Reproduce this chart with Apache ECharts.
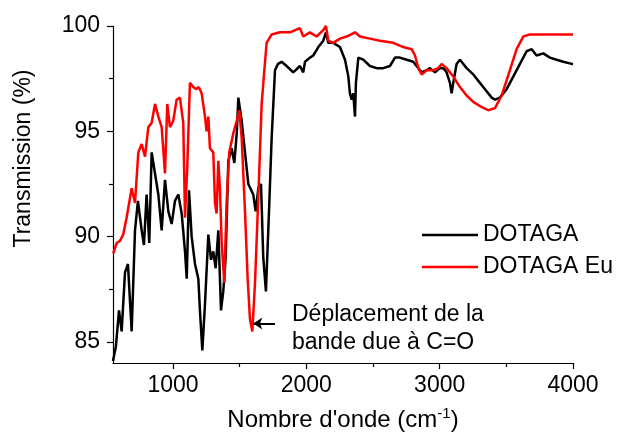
<!DOCTYPE html>
<html><head><meta charset="utf-8">
<script src="https://cdn.jsdelivr.net/npm/echarts@6/dist/echarts.min.js"></script>
<style>html,body{margin:0;padding:0;background:#fff}#c{width:626px;height:432px}</style>
</head><body><div id="c"></div>
<script>
const seriesNames = ['DOTAGA', 'DOTAGA Eu'];
const dotagaWavenumber = [550,572,595,615,640,662,690,715,737,765,782,802,822,840,865,890,915,940,965,990,1015,1040,1065,1090,1103,1120,1140,1165,1190,1202,1220,1240,1265,1285,1302,1320,1340,1360,1377,1395,1415,1440,1460,1478,1490,1515,1540,1565,1602,1620,1640,1660,1677,1697,1720,1740,1765,1787,1815,1852,1902,1952,1977,1990,2027,2052,2090,2127,2147,2165,2202,2252,2290,2315,2327,2340,2352,2365,2372,2390,2427,2477,2527,2577,2627,2665,2702,2752,2802,2840,2865,2902,2927,2965,3002,3027,3052,3077,3090,3102,3127,3152,3202,3252,3302,3352,3390,3415,3452,3502,3552,3602,3652,3690,3727,3777,3827,3877,3927,3990,4000];
const dotagaTransmission = [84.1,84.8,86.5,85.5,88.3,88.7,85.5,90.3,91.7,90.3,89.6,92.0,89.7,94.0,93.0,92.0,90.3,92.7,91.2,90.6,91.7,92.0,91.1,89.3,88.0,92.2,90.0,88.7,88.0,86.5,84.6,86.8,90.1,88.9,89.3,88.5,90.3,86.5,87.4,89.0,93.6,94.2,93.5,94.9,96.6,95.5,94.0,92.5,92.0,91.2,92.3,92.5,89.0,87.4,91.2,94.7,97.9,98.2,98.3,98.1,97.8,98.1,97.8,98.3,98.5,98.6,99.0,99.3,99.7,99.2,99.2,99.0,98.4,97.6,96.8,96.5,96.8,95.7,97.3,98.5,98.4,98.1,98.0,98.0,98.1,98.5,98.5,98.4,98.3,98.0,97.8,97.9,98.0,97.8,98.0,98.0,97.8,97.3,96.8,97.3,98.2,98.4,98.0,97.7,97.3,96.9,96.6,96.5,96.6,97.0,97.6,98.2,98.8,98.9,98.6,98.7,98.5,98.4,98.3,98.2,98.2];
const euWavenumber = [552,578,602,627,652,690,715,740,765,790,815,840,865,890,915,940,957,977,1002,1027,1052,1077,1090,1107,1127,1152,1177,1190,1202,1215,1240,1252,1265,1277,1302,1315,1327,1340,1352,1365,1385,1402,1422,1452,1478,1497,1515,1540,1560,1577,1595,1615,1640,1665,1685,1702,1740,1802,1877,1952,1977,2027,2077,2127,2147,2165,2202,2252,2302,2365,2402,2477,2552,2652,2727,2790,2815,2840,2865,2902,2952,2990,3015,3052,3102,3152,3202,3252,3302,3365,3415,3465,3527,3577,3627,3677,3802,3927,4000];
const euTransmission = [89.2,89.7,89.8,90.1,90.9,92.3,91.6,94.0,94.4,93.8,95.2,95.4,96.3,95.7,95.2,93.0,96.3,95.2,95.5,96.5,96.6,95.4,90.9,93.3,97.3,97.1,97.0,97.1,97.0,96.8,95.7,95.0,95.7,94.2,94.0,91.6,91.1,93.6,92.3,89.7,87.8,91.6,94.0,94.9,95.5,96.0,94.7,91.2,88.0,86.1,85.5,87.8,91.9,96.3,97.9,99.2,99.6,99.7,99.7,99.9,99.5,99.7,99.5,99.8,100.0,99.3,99.2,99.4,99.5,99.7,99.5,99.4,99.3,99.2,99.0,98.9,98.6,98.0,97.7,97.9,97.9,98.0,98.2,98.0,97.6,97.1,96.7,96.4,96.2,96.0,96.1,96.7,97.9,98.9,99.5,99.6,99.6,99.6,99.6];
const xMajorTicks = [1000, 2000, 3000, 4000];
const xMinorTicks = [1500, 2500, 3500];
const yMajorTicks = [85, 90, 95, 100];
const yMinorTicks = [87.5, 92.5, 97.5];
const arrowFrom = [1765, 85.87];
const arrowTo = [1602, 85.87];
const xTitle = "Nombre d'onde (cm";
const xTitleSup = '-1';
const yTitle = 'Transmission (%)';
const noteLines = ['Déplacement de la', 'bande due à C=O'];

const FONT = '"Liberation Sans", Arial, sans-serif';
const pair = (xs, ys) => xs.map((x, i) => [x, ys[i]]);
const axisLineStyle = { color: '#000', width: 1.2 };
const plain = v => String(v);

function xAxisDef(ticks, len, labels) {
  return {
    type: 'value', min: 550, max: 4000, position: 'bottom', gridIndex: 0,
    axisLine: { show: labels, lineStyle: axisLineStyle, onZero: false },
    axisTick: { show: true, inside: false, length: len, customValues: ticks, lineStyle: axisLineStyle },
    axisLabel: { show: labels, customValues: ticks, formatter: plain, margin: 11, fontSize: 23, color: '#000', fontFamily: FONT },
    splitLine: { show: false }, minorTick: { show: false }
  };
}
function yAxisDef(ticks, len, labels) {
  return {
    type: 'value', min: 84, max: 100, position: 'left', gridIndex: 0,
    axisLine: { show: labels, lineStyle: axisLineStyle, onZero: false },
    axisTick: { show: true, inside: false, length: len, customValues: ticks, lineStyle: axisLineStyle },
    axisLabel: { show: labels, customValues: ticks, formatter: plain, margin: 13, fontSize: 23, color: '#000', fontFamily: FONT },
    splitLine: { show: false }, minorTick: { show: false }
  };
}

const chart = echarts.init(document.getElementById('c'), null, { renderer: 'canvas' });
chart.setOption({
  animation: false,
  backgroundColor: '#fff',
  grid: { left: 113, right: 53, top: 26, bottom: 69, containLabel: false, outerBoundsMode: 'none' },
  xAxis: [xAxisDef(xMajorTicks, 6, true), xAxisDef(xMinorTicks, 4, false)],
  yAxis: [yAxisDef(yMajorTicks, 6, true), yAxisDef(yMinorTicks, 4, false)],
  legend: {
    orient: 'vertical', left: 422, top: 223.5, padding: 0, itemWidth: 56, itemHeight: 2.5, icon: 'rect',
    itemGap: 9, data: seriesNames,
    textStyle: { fontSize: 23, color: '#000', fontFamily: FONT }
  },
  series: [
    {
      name: seriesNames[0], type: 'line', xAxisIndex: 0, yAxisIndex: 0, showSymbol: false, symbol: 'none',
      color: '#000000', lineStyle: { color: '#000000', width: 2.5 }, itemStyle: { color: '#000000' },
      data: pair(dotagaWavenumber, dotagaTransmission), z: 2
    },
    {
      name: seriesNames[1], type: 'line', xAxisIndex: 0, yAxisIndex: 0, showSymbol: false, symbol: 'none',
      color: '#ff0000', lineStyle: { color: '#ff0000', width: 2.5 }, itemStyle: { color: '#ff0000' },
      data: pair(euWavenumber, euTransmission), z: 3,
      markLine: {
        silent: true, symbol: ['none', 'arrow'], symbolSize: 9, animation: false,
        lineStyle: { color: '#000', width: 2, type: 'solid' }, label: { show: false },
        emphasis: { disabled: true },
        data: [[{ coord: arrowFrom }, { coord: arrowTo }]]
      }
    }
  ],
  graphic: [
    { type: 'text', x: 23.5, y: 158.5, rotation: Math.PI / 2,
      style: { text: yTitle, font: '23px ' + FONT, fill: '#000', align: 'center', verticalAlign: 'middle' } },
    { type: 'text', x: 343, y: 420,
      style: { text: xTitle + '{sup|' + xTitleSup + '})', font: '24px ' + FONT, fill: '#000', align: 'center', verticalAlign: 'middle',
        lineHeight: 28,
        rich: { sup: { font: '15px ' + FONT, fill: '#000', verticalAlign: 'top', lineHeight: 28, padding: [0, 0, 10, 0] } } } },
    { type: 'text', x: 292, y: 315,
      style: { text: noteLines[0], font: '23px ' + FONT, fill: '#000', align: 'left', verticalAlign: 'middle' } },
    { type: 'text', x: 292, y: 342.4,
      style: { text: noteLines[1], font: '23px ' + FONT, fill: '#000', align: 'left', verticalAlign: 'middle' } }
  ]
});
</script></body></html>
